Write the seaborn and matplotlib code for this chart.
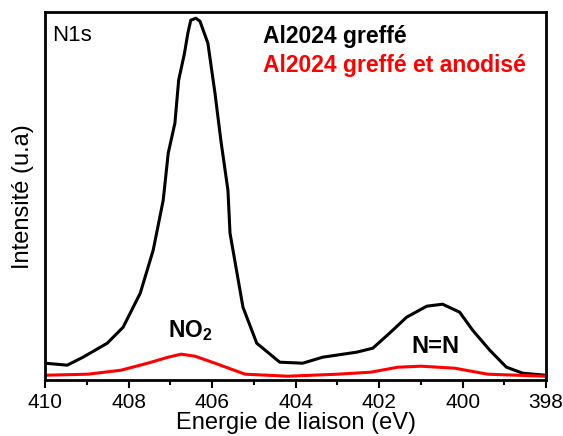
import matplotlib
matplotlib.use("Agg")
import matplotlib.pyplot as plt
import seaborn as sns
import pandas as pd
from matplotlib.ticker import MultipleLocator

sns.set_style("ticks")
plt.rcParams['font.family'] = ['Liberation Sans', 'DejaVu Sans']
plt.rcParams['mathtext.fontset'] = 'custom'
plt.rcParams['mathtext.rm'] = 'Liberation Sans'
plt.rcParams['mathtext.bf'] = 'Liberation Sans:bold'
plt.rcParams['text.color'] = 'black'
plt.rcParams['axes.labelcolor'] = 'black'
plt.rcParams['xtick.color'] = 'black'
plt.rcParams['ytick.color'] = 'black'

# Black curve: Al2024 greffé (energy eV, intensity a.u.)
greffe_x = [410.0, 409.47, 409.09, 408.51, 408.13, 407.72, 407.41, 407.17, 407.05, 406.89, 406.8,
            406.66, 406.58, 406.51, 406.39, 406.29, 406.1, 405.93, 405.79, 405.62, 405.57, 405.26,
            404.93, 404.38, 403.83, 403.35, 402.54, 402.15, 401.75, 401.34, 400.86, 400.48, 400.07,
            399.76, 399.35, 398.95, 398.56, 398.03]
greffe_y = [17, 15, 23, 37, 53, 87, 130, 180, 227, 257, 300,
            327, 347, 360, 362, 359, 337, 287, 240, 190, 147, 73,
            37, 18, 17, 23, 28, 32, 47, 63, 74, 76, 68,
            50, 30, 13, 7, 5]

# Red curve: Al2024 greffé et anodisé
anod_x = [409.95, 408.97, 408.18, 407.54, 407.05, 406.74, 406.41, 405.93, 405.21, 404.19, 402.99,
          402.2, 401.55, 401.0, 400.19, 399.4, 398.03]
anod_y = [5, 6, 10, 17, 23, 26, 24, 17, 6, 4, 6,
          8, 13, 14, 12, 6, 4]

df = pd.concat([
    pd.DataFrame({"E": greffe_x, "I": greffe_y, "s": "Al2024 greffé"}),
    pd.DataFrame({"E": anod_x, "I": anod_y, "s": "Al2024 greffé et anodisé"}),
])

fig = plt.figure(figsize=(5.63, 4.36), dpi=100)
ax = fig.add_axes([0.080, 0.128, 0.890, 0.844])
sns.lineplot(data=df, x="E", y="I", hue="s",
             palette={"Al2024 greffé": "black", "Al2024 greffé et anodisé": "#ff0000"},
             sort=False, estimator=None, linewidth=2.2, legend=False, ax=ax)

ax.set_xlim(410, 398)
ax.set_ylim(0, 368)
ax.xaxis.set_major_locator(MultipleLocator(2))
ax.xaxis.set_minor_locator(MultipleLocator(1))
ax.set_yticks([])
ax.tick_params(axis='x', which='major', direction='out', length=5.5, width=1.5, labelsize=15, pad=4)
ax.tick_params(axis='x', which='minor', direction='out', length=3.5, width=1.5)
for sp in ax.spines.values():
    sp.set_linewidth(2)
    sp.set_color('black')
ax.set_xlabel("Energie de liaison (eV)", fontsize=17, labelpad=0)
ax.set_ylabel("Intensité (u.a)", fontsize=17, labelpad=8)

ax.text(0.014, 0.965, "N1s", transform=ax.transAxes, fontsize=16, va='top', ha='left')
ax.text(0.435, 0.935, "Al2024 greffé", transform=ax.transAxes, fontsize=16.5, fontweight='bold',
        va='center', ha='left', color='black')
ax.text(0.435, 0.855, "Al2024 greffé et anodisé", transform=ax.transAxes, fontsize=16.5, fontweight='bold',
        va='center', ha='left', color='#ff0000')
ax.text(406.53, 50, "NO$_\\mathbf{2}$", fontsize=16.5, fontweight='bold', ha='center', va='center')
ax.text(400.65, 34, "N=N", fontsize=17, fontweight='bold', ha='center', va='center')

fig.savefig("out.png", dpi=100)
